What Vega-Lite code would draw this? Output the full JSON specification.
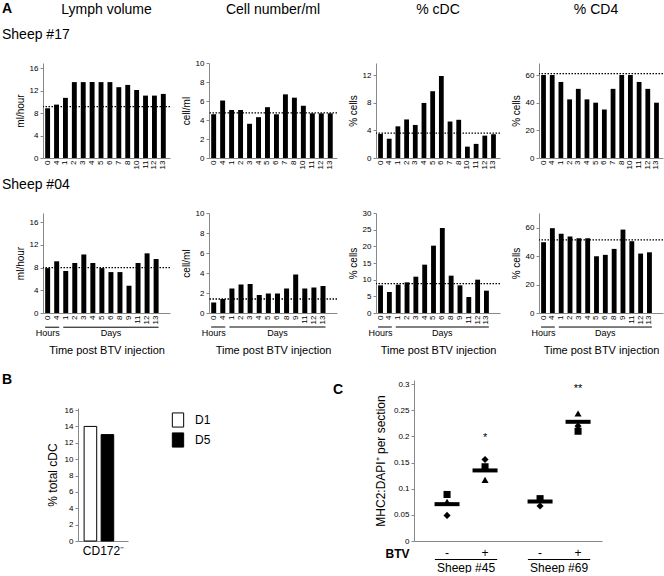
{
  "$schema": "https://vega.github.io/schema/vega-lite/v6.json",
  "background": "white",
  "padding": {"left": 2, "top": 2, "right": 0, "bottom": 0},
  "config": {
    "font": "Liberation Sans",
    "view": {"stroke": null},
    "axis": {"labelFont": "Liberation Sans", "labelFontSize": 8, "labelColor": "black", "titleFont": "Liberation Sans", "titleFontSize": 10, "titleFontWeight": "normal", "titleColor": "black", "domainColor": "#888888", "tickColor": "#888888", "tickSize": 3, "grid": false, "labelPadding": 2, "labelOverlap": false},
    "title": {"font": "Liberation Sans", "fontSize": 14, "fontWeight": "normal", "color": "black", "subtitleColor": "black", "subtitleFont": "Liberation Sans"},
    "legend": {"labelFont": "Liberation Sans", "labelColor": "black"}
  },
  "datasets": {
    "s17": [
      {"t": "0h", "lymph": 8.85, "cell": 4.6, "cdc": 3.5, "cd4": 60},
      {"t": "4h", "lymph": 9.5, "cell": 6.05, "cdc": 2.8, "cd4": 60},
      {"t": "1", "lymph": 10.7, "cell": 5.05, "cdc": 4.6, "cd4": 55},
      {"t": "2", "lymph": 13.5, "cell": 5.05, "cdc": 5.6, "cd4": 42.4},
      {"t": "3", "lymph": 13.5, "cell": 3.6, "cdc": 4.8, "cd4": 50},
      {"t": "4", "lymph": 13.5, "cell": 4.3, "cdc": 8.0, "cd4": 42.4},
      {"t": "5", "lymph": 13.5, "cell": 5.35, "cdc": 9.7, "cd4": 40},
      {"t": "6", "lymph": 13.5, "cell": 4.6, "cdc": 11.9, "cd4": 35},
      {"t": "7", "lymph": 12.6, "cell": 6.7, "cdc": 5.3, "cd4": 50},
      {"t": "8", "lymph": 13.0, "cell": 6.35, "cdc": 5.55, "cd4": 60},
      {"t": "10", "lymph": 12.1, "cell": 5.5, "cdc": 1.65, "cd4": 60},
      {"t": "11", "lymph": 11.1, "cell": 4.7, "cdc": 2.05, "cd4": 55},
      {"t": "12", "lymph": 11.1, "cell": 4.7, "cdc": 3.25, "cd4": 50},
      {"t": "13", "lymph": 11.4, "cell": 4.7, "cdc": 3.45, "cd4": 40}
    ],
    "s04": [
      {"t": "0h", "lymph": 7.9, "cell": 1.05, "cdc": 8.3, "cd4": 49.9},
      {"t": "4h", "lymph": 9.1, "cell": 1.4, "cdc": 6.3, "cd4": 59.8},
      {"t": "1", "lymph": 7.4, "cell": 2.45, "cdc": 8.5, "cd4": 55.8},
      {"t": "2", "lymph": 8.8, "cell": 2.85, "cdc": 9.2, "cd4": 53.9},
      {"t": "3", "lymph": 10.3, "cell": 2.9, "cdc": 10.9, "cd4": 52.7},
      {"t": "4", "lymph": 8.8, "cell": 1.8, "cdc": 14.5, "cd4": 52.7},
      {"t": "5", "lymph": 7.9, "cell": 1.95, "cdc": 20.2, "cd4": 40},
      {"t": "6", "lymph": 7.2, "cell": 1.95, "cdc": 25.5, "cd4": 41},
      {"t": "8", "lymph": 7.2, "cell": 2.45, "cdc": 11.2, "cd4": 45.2},
      {"t": "9", "lymph": 4.8, "cell": 3.85, "cdc": 8.3, "cd4": 58.8},
      {"t": "11", "lymph": 8.8, "cell": 2.45, "cdc": 4.8, "cd4": 50.6},
      {"t": "12", "lymph": 10.5, "cell": 2.55, "cdc": 10.0, "cd4": 41.9},
      {"t": "13", "lymph": 9.5, "cell": 2.7, "cdc": 6.7, "cd4": 42.8}
    ],
    "grp04": [
      {"g": "Hours", "from": "0h", "to": "4h", "mid": "0h"},
      {"g": "Days", "from": "1", "to": "13", "mid": "6"}
    ],
    "b": [
      {"cat": "CD172⁻", "day": "D1", "v": 14},
      {"cat": "CD172⁻", "day": "D5", "v": 13}
    ],
    "cpts": [
      {"sheep": "Sheep #45", "btv": "-", "m": "square", "v": 0.089},
      {"sheep": "Sheep #45", "btv": "-", "m": "triangle", "v": 0.075},
      {"sheep": "Sheep #45", "btv": "-", "m": "diamond", "v": 0.049},
      {"sheep": "Sheep #45", "btv": "+", "m": "diamond", "v": 0.156},
      {"sheep": "Sheep #45", "btv": "+", "m": "square", "v": 0.142},
      {"sheep": "Sheep #45", "btv": "+", "m": "triangle", "v": 0.117},
      {"sheep": "Sheep #69", "btv": "-", "m": "triangle", "v": 0.081},
      {"sheep": "Sheep #69", "btv": "-", "m": "square", "v": 0.081},
      {"sheep": "Sheep #69", "btv": "-", "m": "diamond", "v": 0.067},
      {"sheep": "Sheep #69", "btv": "+", "m": "triangle", "v": 0.244},
      {"sheep": "Sheep #69", "btv": "+", "m": "diamond", "v": 0.22},
      {"sheep": "Sheep #69", "btv": "+", "m": "square", "v": 0.21}
    ],
    "cmean": [
      {"sheep": "Sheep #45", "btv": "-", "v": 0.0705},
      {"sheep": "Sheep #45", "btv": "+", "v": 0.135},
      {"sheep": "Sheep #69", "btv": "-", "v": 0.0756},
      {"sheep": "Sheep #69", "btv": "+", "v": 0.228}
    ],
    "cstar": [
      {"sheep": "Sheep #45", "btv": "+", "v": 0.197, "s": "*"},
      {"sheep": "Sheep #69", "btv": "+", "v": 0.29, "s": "**"}
    ],
    "clab": [
      {"sheep": "Sheep #45", "btv": "-"},
      {"sheep": "Sheep #45", "btv": "+"},
      {"sheep": "Sheep #69", "btv": "-"},
      {"sheep": "Sheep #69", "btv": "+"}
    ],
    "csheep": [
      {"sheep": "Sheep #45"},
      {"sheep": "Sheep #69"}
    ]
  },
  "spacing": 17,
  "vconcat": [
    {
      "spacing": 9,
      "vconcat": [
        {
          "bounds": "flush",
          "spacing": 39,
          "hconcat": [
            {
              "width": 2, "height": 95,
              "title": {"text": "A", "subtitle": "Sheep #17", "anchor": "start", "frame": "group", "fontWeight": "bold", "fontSize": 14, "subtitleFontSize": 14, "subtitlePadding": 12, "offset": 21},
              "data": {"values": []},
              "mark": {"type": "point", "opacity": 0}
            },
            {
              "width": 127, "height": 95,
              "title": {"text": "Lymph volume", "offset": 46},
              "layer": [
                {"data": {"name": "s17"}, "mark": {"type": "bar", "fill": "black"},
                 "encoding": {
                   "x": {"field": "t", "type": "nominal", "sort": null, "scale": {"domain": ["0h","4h","1","2","3","4","5","6","7","8","10","11","12","13"], "paddingInner": 0.45, "paddingOuter": 0.36, "align": 0.34}, "axis": {"title": null, "labelAngle": -90, "labelExpr": "replace(datum.label, 'h', '')", "ticks": false}},
                   "y": {"field": "lymph", "type": "quantitative", "scale": {"domain": [0, 16.9], "nice": false}, "axis": {"values": [0, 4, 8, 12, 16], "title": "ml/hour", "titlePadding": 4, "labelOverlap": false}}
                 }},
                {"data": {"values": [{}]}, "mark": {"type": "rule", "strokeDash": [1.5, 1.5], "strokeWidth": 1.3, "color": "black"}, "encoding": {"y": {"datum": 9.15, "axis": {"values": [0, 4, 8, 12, 16], "title": "ml/hour", "titlePadding": 4, "labelOverlap": false}}}}
              ]
            },
            {
              "width": 128, "height": 95,
              "title": {"text": "Cell number/ml", "offset": 42},
              "layer": [
                {"data": {"name": "s17"}, "mark": {"type": "bar", "fill": "black"},
                 "encoding": {
                   "x": {"field": "t", "type": "nominal", "sort": null, "scale": {"domain": ["0h","4h","1","2","3","4","5","6","7","8","10","11","12","13"], "paddingInner": 0.45, "paddingOuter": 0.36, "align": 0.34}, "axis": {"title": null, "labelAngle": -90, "labelExpr": "replace(datum.label, 'h', '')", "ticks": false}},
                   "y": {"field": "cell", "type": "quantitative", "scale": {"domain": [0, 10], "nice": false}, "axis": {"values": [0, 2, 4, 6, 8, 10], "title": "cell/ml", "titlePadding": 4, "labelOverlap": false}}
                 }},
                {"data": {"values": [{}]}, "mark": {"type": "rule", "strokeDash": [1.5, 1.5], "strokeWidth": 1.3, "color": "black"}, "encoding": {"y": {"datum": 4.75, "axis": {"values": [0, 2, 4, 6, 8, 10], "title": "cell/ml", "titlePadding": 4, "labelOverlap": false}}}}
              ]
            },
            {
              "width": 124, "height": 95,
              "title": {"text": "% cDC", "offset": 46},
              "layer": [
                {"data": {"name": "s17"}, "mark": {"type": "bar", "fill": "black"},
                 "encoding": {
                   "x": {"field": "t", "type": "nominal", "sort": null, "scale": {"domain": ["0h","4h","1","2","3","4","5","6","7","8","10","11","12","13"], "paddingInner": 0.45, "paddingOuter": 0.36, "align": 0.34}, "axis": {"title": null, "labelAngle": -90, "labelExpr": "replace(datum.label, 'h', '')", "ticks": false}},
                   "y": {"field": "cdc", "type": "quantitative", "scale": {"domain": [0, 13.8], "nice": false}, "axis": {"values": [0, 4, 8, 12], "title": "% cells", "titlePadding": 4, "labelOverlap": false}}
                 }},
                {"data": {"values": [{}]}, "mark": {"type": "rule", "strokeDash": [1.5, 1.5], "strokeWidth": 1.3, "color": "black"}, "encoding": {"y": {"datum": 3.6, "axis": {"values": [0, 4, 8, 12], "title": "% cells", "titlePadding": 4, "labelOverlap": false}}}}
              ]
            },
            {
              "width": 124, "height": 95,
              "title": {"text": "% CD4", "offset": 46, "dx": -5},
              "layer": [
                {"data": {"name": "s17"}, "mark": {"type": "bar", "fill": "black"},
                 "encoding": {
                   "x": {"field": "t", "type": "nominal", "sort": null, "scale": {"domain": ["0h","4h","1","2","3","4","5","6","7","8","10","11","12","13"], "paddingInner": 0.45, "paddingOuter": 0.36, "align": 0.34}, "axis": {"title": null, "labelAngle": -90, "labelExpr": "replace(datum.label, 'h', '')", "ticks": false}},
                   "y": {"field": "cd4", "type": "quantitative", "scale": {"domain": [0, 68.7], "nice": false}, "axis": {"values": [0, 20, 40, 60], "title": "% cells", "titlePadding": 4, "labelOverlap": false}}
                 }},
                {"data": {"values": [{}]}, "mark": {"type": "rule", "strokeDash": [1.5, 1.5], "strokeWidth": 1.3, "color": "black"}, "encoding": {"y": {"datum": 61, "axis": {"values": [0, 20, 40, 60], "title": "% cells", "titlePadding": 4, "labelOverlap": false}}}}
              ]
            }
          ]
        },
        {
          "bounds": "flush",
          "spacing": 39,
          "hconcat": [
            {
              "width": 2, "height": 100,
              "title": {"text": "Sheep #04", "anchor": "start", "frame": "group", "fontSize": 14, "offset": 21},
              "data": {"values": []},
              "mark": {"type": "point", "opacity": 0}
            },
            {
              "width": 127, "height": 100,
              "layer": [
                {"data": {"name": "s04"}, "mark": {"type": "bar", "fill": "black"},
                 "encoding": {
                   "x": {"field": "t", "type": "nominal", "sort": null, "scale": {"domain": ["0h","4h","1","2","3","4","5","6","8","9","11","12","13"], "paddingInner": 0.45, "paddingOuter": 0.75, "align": 0.16}, "axis": {"title": "Time post BTV injection", "titleFontSize": 11, "titlePadding": 21, "labelAngle": -90, "labelExpr": "replace(datum.label, 'h', '')", "ticks": false}},
                   "y": {"field": "lymph", "type": "quantitative", "scale": {"domain": [0, 17.6], "nice": false}, "axis": {"values": [0, 4, 8, 12, 16], "title": "ml/hour", "titlePadding": 4, "labelOverlap": false}}
                 }},
                {"data": {"values": [{}]}, "mark": {"type": "rule", "strokeDash": [1.5, 1.5], "strokeWidth": 1.3, "color": "black"}, "encoding": {"y": {"datum": 8.0, "axis": {"values": [0, 4, 8, 12, 16], "title": "ml/hour", "titlePadding": 4, "labelOverlap": false}}}},
                {"data": {"name": "grp04"}, "mark": {"type": "rule", "color": "black", "strokeWidth": 1},
                 "encoding": {"x": {"field": "from", "type": "nominal", "bandPosition": 0, "axis": {"title": "Time post BTV injection", "titleFontSize": 11, "titlePadding": 21, "labelAngle": -90, "labelExpr": "replace(datum.label, 'h', '')", "ticks": false}}, "x2": {"field": "to", "bandPosition": 1}, "y": {"datum": -2.5, "axis": {"values": [0, 4, 8, 12, 16], "title": "ml/hour", "titlePadding": 4, "labelOverlap": false}}}},
                {"data": {"name": "grp04"}, "mark": {"type": "text", "baseline": "top", "dy": 2, "fontSize": 9, "color": "black"},
                 "encoding": {"x": {"field": "mid", "type": "nominal", "axis": {"title": "Time post BTV injection", "titleFontSize": 11, "titlePadding": 21, "labelAngle": -90, "labelExpr": "replace(datum.label, 'h', '')", "ticks": false}}, "text": {"field": "g"}, "y": {"datum": -2.5, "axis": {"values": [0, 4, 8, 12, 16], "title": "ml/hour", "titlePadding": 4, "labelOverlap": false}}}}
              ]
            },
            {
              "width": 128, "height": 100,
              "layer": [
                {"data": {"name": "s04"}, "mark": {"type": "bar", "fill": "black"},
                 "encoding": {
                   "x": {"field": "t", "type": "nominal", "sort": null, "scale": {"domain": ["0h","4h","1","2","3","4","5","6","8","9","11","12","13"], "paddingInner": 0.45, "paddingOuter": 0.75, "align": 0.16}, "axis": {"title": "Time post BTV injection", "titleFontSize": 11, "titlePadding": 21, "labelAngle": -90, "labelExpr": "replace(datum.label, 'h', '')", "ticks": false}},
                   "y": {"field": "cell", "type": "quantitative", "scale": {"domain": [0, 10], "nice": false}, "axis": {"values": [0, 2, 4, 6, 8, 10], "title": "cell/ml", "titlePadding": 4, "labelOverlap": false}}
                 }},
                {"data": {"values": [{}]}, "mark": {"type": "rule", "strokeDash": [1.5, 1.5], "strokeWidth": 1.3, "color": "black"}, "encoding": {"y": {"datum": 1.4, "axis": {"values": [0, 2, 4, 6, 8, 10], "title": "cell/ml", "titlePadding": 4, "labelOverlap": false}}}},
                {"data": {"name": "grp04"}, "mark": {"type": "rule", "color": "black", "strokeWidth": 1},
                 "encoding": {"x": {"field": "from", "type": "nominal", "bandPosition": 0, "axis": {"title": "Time post BTV injection", "titleFontSize": 11, "titlePadding": 21, "labelAngle": -90, "labelExpr": "replace(datum.label, 'h', '')", "ticks": false}}, "x2": {"field": "to", "bandPosition": 1}, "y": {"datum": -1.4, "axis": {"values": [0, 2, 4, 6, 8, 10], "title": "cell/ml", "titlePadding": 4, "labelOverlap": false}}}},
                {"data": {"name": "grp04"}, "mark": {"type": "text", "baseline": "top", "dy": 2, "fontSize": 9, "color": "black"},
                 "encoding": {"x": {"field": "mid", "type": "nominal", "axis": {"title": "Time post BTV injection", "titleFontSize": 11, "titlePadding": 21, "labelAngle": -90, "labelExpr": "replace(datum.label, 'h', '')", "ticks": false}}, "text": {"field": "g"}, "y": {"datum": -1.4, "axis": {"values": [0, 2, 4, 6, 8, 10], "title": "cell/ml", "titlePadding": 4, "labelOverlap": false}}}}
              ]
            },
            {
              "width": 124, "height": 100,
              "layer": [
                {"data": {"name": "s04"}, "mark": {"type": "bar", "fill": "black"},
                 "encoding": {
                   "x": {"field": "t", "type": "nominal", "sort": null, "scale": {"domain": ["0h","4h","1","2","3","4","5","6","8","9","11","12","13"], "paddingInner": 0.45, "paddingOuter": 0.75, "align": 0.16}, "axis": {"title": "Time post BTV injection", "titleFontSize": 11, "titlePadding": 21, "labelAngle": -90, "labelExpr": "replace(datum.label, 'h', '')", "ticks": false}},
                   "y": {"field": "cdc", "type": "quantitative", "scale": {"domain": [0, 30], "nice": false}, "axis": {"values": [0, 5, 10, 15, 20, 25, 30], "title": "% cells", "titlePadding": 4, "labelOverlap": false}}
                 }},
                {"data": {"values": [{}]}, "mark": {"type": "rule", "strokeDash": [1.5, 1.5], "strokeWidth": 1.3, "color": "black"}, "encoding": {"y": {"datum": 8.8, "axis": {"values": [0, 5, 10, 15, 20, 25, 30], "title": "% cells", "titlePadding": 4, "labelOverlap": false}}}},
                {"data": {"name": "grp04"}, "mark": {"type": "rule", "color": "black", "strokeWidth": 1},
                 "encoding": {"x": {"field": "from", "type": "nominal", "bandPosition": 0, "axis": {"title": "Time post BTV injection", "titleFontSize": 11, "titlePadding": 21, "labelAngle": -90, "labelExpr": "replace(datum.label, 'h', '')", "ticks": false}}, "x2": {"field": "to", "bandPosition": 1}, "y": {"datum": -4.2, "axis": {"values": [0, 5, 10, 15, 20, 25, 30], "title": "% cells", "titlePadding": 4, "labelOverlap": false}}}},
                {"data": {"name": "grp04"}, "mark": {"type": "text", "baseline": "top", "dy": 2, "fontSize": 9, "color": "black"},
                 "encoding": {"x": {"field": "mid", "type": "nominal", "axis": {"title": "Time post BTV injection", "titleFontSize": 11, "titlePadding": 21, "labelAngle": -90, "labelExpr": "replace(datum.label, 'h', '')", "ticks": false}}, "text": {"field": "g"}, "y": {"datum": -4.2, "axis": {"values": [0, 5, 10, 15, 20, 25, 30], "title": "% cells", "titlePadding": 4, "labelOverlap": false}}}}
              ]
            },
            {
              "width": 124, "height": 100,
              "layer": [
                {"data": {"name": "s04"}, "mark": {"type": "bar", "fill": "black"},
                 "encoding": {
                   "x": {"field": "t", "type": "nominal", "sort": null, "scale": {"domain": ["0h","4h","1","2","3","4","5","6","8","9","11","12","13"], "paddingInner": 0.45, "paddingOuter": 0.75, "align": 0.16}, "axis": {"title": "Time post BTV injection", "titleFontSize": 11, "titlePadding": 21, "labelAngle": -90, "labelExpr": "replace(datum.label, 'h', '')", "ticks": false}},
                   "y": {"field": "cd4", "type": "quantitative", "scale": {"domain": [0, 70.5], "nice": false}, "axis": {"values": [0, 20, 40, 60], "title": "% cells", "titlePadding": 4, "labelOverlap": false}}
                 }},
                {"data": {"values": [{}]}, "mark": {"type": "rule", "strokeDash": [1.5, 1.5], "strokeWidth": 1.3, "color": "black"}, "encoding": {"y": {"datum": 51.5, "axis": {"values": [0, 20, 40, 60], "title": "% cells", "titlePadding": 4, "labelOverlap": false}}}},
                {"data": {"name": "grp04"}, "mark": {"type": "rule", "color": "black", "strokeWidth": 1},
                 "encoding": {"x": {"field": "from", "type": "nominal", "bandPosition": 0, "axis": {"title": "Time post BTV injection", "titleFontSize": 11, "titlePadding": 21, "labelAngle": -90, "labelExpr": "replace(datum.label, 'h', '')", "ticks": false}}, "x2": {"field": "to", "bandPosition": 1}, "y": {"datum": -9.9, "axis": {"values": [0, 20, 40, 60], "title": "% cells", "titlePadding": 4, "labelOverlap": false}}}},
                {"data": {"name": "grp04"}, "mark": {"type": "text", "baseline": "top", "dy": 2, "fontSize": 9, "color": "black"},
                 "encoding": {"x": {"field": "mid", "type": "nominal", "axis": {"title": "Time post BTV injection", "titleFontSize": 11, "titlePadding": 21, "labelAngle": -90, "labelExpr": "replace(datum.label, 'h', '')", "ticks": false}}, "text": {"field": "g"}, "y": {"datum": -9.9, "axis": {"values": [0, 20, 40, 60], "title": "% cells", "titlePadding": 4, "labelOverlap": false}}}}
              ]
            }
          ]
        }
      ]
    },
    {
      "bounds": "flush",
      "spacing": 74,
      "resolve": {"scale": {"fill": "independent", "shape": "independent"}, "legend": {"fill": "independent", "shape": "independent"}},
      "hconcat": [
        {
          "width": 2, "height": 161,
          "title": {"text": "B", "anchor": "start", "frame": "group", "fontWeight": "bold", "fontSize": 14, "offset": -7},
          "data": {"values": []},
          "mark": {"type": "point", "opacity": 0}
        },
        {
          "width": 50, "height": 161,
          "data": {"name": "b"},
          "mark": {"type": "bar", "stroke": "black", "strokeWidth": 1},
          "encoding": {
            "x": {"field": "day", "type": "nominal", "scale": {"paddingInner": 0.26, "paddingOuter": 0.6, "align": 0.3}, "axis": {"title": "CD172⁻", "labels": false, "ticks": false, "titleFontSize": 12, "titlePadding": 4}},
            "y": {"field": "v", "type": "quantitative", "stack": null, "scale": {"domain": [0, 16.25], "nice": false, "range": [161, 28]}, "axis": {"values": [0, 2, 4, 6, 8, 10, 12, 14, 16], "title": "% total cDC", "titleFontSize": 12, "titlePadding": 5}},
            "fill": {"field": "day", "type": "nominal", "scale": {"domain": ["D1", "D5"], "range": ["white", "black"]},
              "legend": {"title": null, "orient": "none", "legendX": 92, "legendY": 32, "symbolType": "M-0.8,-1L0.8,-1L0.8,1L-0.8,1Z", "symbolSize": 200, "symbolStrokeColor": "black", "symbolStrokeWidth": 1, "symbolOpacity": 1, "labelFontSize": 12, "rowPadding": 0, "labelOffset": 9}}
          }
        },
        {
          "width": 138, "height": 161,
          "title": {"text": "C", "anchor": "end", "frame": "group", "fontWeight": "bold", "fontSize": 14, "offset": -17, "dx": 3},
          "data": {"values": []},
          "mark": {"type": "point", "opacity": 0}
        },
        {
          "width": 188, "height": 161,
          "layer": [
            {"data": {"name": "csheep"}, "mark": {"type": "bar", "color": "black", "width": {"band": 0.82}},
             "encoding": {
               "x": {"field": "sheep", "type": "nominal", "scale": {"domain": ["Sheep #45", "Sheep #69"], "paddingInner": 0.183, "paddingOuter": 0.102, "align": 0.74},
                 "axis": {"title": "BTV", "titleX": -5, "titleY": 12, "titleAlign": "right", "titleBaseline": "middle", "titleAngle": 0, "titleFontWeight": "bold", "titleFontSize": 12, "ticks": false, "labelPadding": 21, "labelFontSize": 12, "labelAngle": 0}},
               "y": {"datum": -0.0345, "scale": {"domain": [0, 0.308], "nice": false}, "axis": {"values": [0, 0.05, 0.1, 0.15, 0.2, 0.25, 0.3], "format": ".2~f", "title": "MHC2:DAPI⁺ per section", "titleFontSize": 12, "titlePadding": 6, "labelOverlap": false}},
               "y2": {"datum": -0.0365}
             }},
            {"data": {"name": "clab"}, "mark": {"type": "text", "fontSize": 12, "baseline": "middle", "color": "black"},
             "encoding": {
               "x": {"field": "sheep", "type": "nominal"},
               "xOffset": {"field": "btv", "type": "nominal", "scale": {"domain": ["-", "+"], "paddingInner": 0, "paddingOuter": 0}},
               "y": {"datum": -0.022, "axis": {"values": [0, 0.05, 0.1, 0.15, 0.2, 0.25, 0.3], "format": ".2~f", "title": "MHC2:DAPI⁺ per section", "titleFontSize": 12, "titlePadding": 6, "labelOverlap": false}},
               "text": {"field": "btv"}
             }},
            {"data": {"name": "cpts"}, "mark": {"type": "point", "filled": true, "color": "black", "size": 50, "opacity": 1},
             "encoding": {
               "x": {"field": "sheep", "type": "nominal"},
               "xOffset": {"field": "btv", "type": "nominal"},
               "y": {"field": "v", "type": "quantitative", "axis": {"values": [0, 0.05, 0.1, 0.15, 0.2, 0.25, 0.3], "format": ".2~f", "title": "MHC2:DAPI⁺ per section", "titleFontSize": 12, "titlePadding": 6, "labelOverlap": false}},
               "shape": {"field": "m", "type": "nominal", "scale": {"domain": ["square", "triangle", "diamond"], "range": ["square", "triangle-up", "diamond"]}, "legend": null}
             }},
            {"data": {"name": "cmean"}, "mark": {"type": "tick", "orient": "horizontal", "color": "black", "size": 25, "thickness": 4, "opacity": 1},
             "encoding": {
               "x": {"field": "sheep", "type": "nominal"},
               "xOffset": {"field": "btv", "type": "nominal"},
               "y": {"field": "v", "type": "quantitative", "axis": {"values": [0, 0.05, 0.1, 0.15, 0.2, 0.25, 0.3], "format": ".2~f", "title": "MHC2:DAPI⁺ per section", "titleFontSize": 12, "titlePadding": 6, "labelOverlap": false}}
             }},
            {"data": {"name": "cstar"}, "mark": {"type": "text", "fontSize": 11, "baseline": "middle", "color": "black"},
             "encoding": {
               "x": {"field": "sheep", "type": "nominal"},
               "xOffset": {"field": "btv", "type": "nominal"},
               "y": {"field": "v", "type": "quantitative", "axis": {"values": [0, 0.05, 0.1, 0.15, 0.2, 0.25, 0.3], "format": ".2~f", "title": "MHC2:DAPI⁺ per section", "titleFontSize": 12, "titlePadding": 6, "labelOverlap": false}},
               "text": {"field": "s"}
             }}
          ]
        }
      ]
    }
  ]
}
